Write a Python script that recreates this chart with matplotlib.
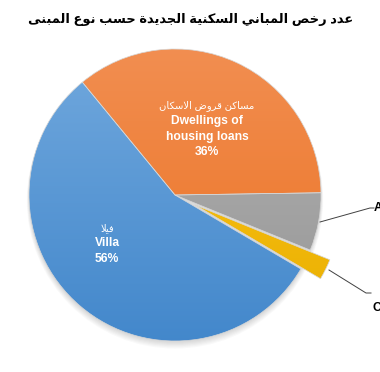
import matplotlib
matplotlib.use("Agg")
import matplotlib.pyplot as plt
import numpy as np
from matplotlib.colors import LinearSegmentedColormap
from matplotlib.patches import Circle

# بيانات الرسم
labels_ar = ["مساكن قروض الاسكان", "شقق", "أخرى", "فيلا"]
labels_en = ["Dwellings of\nhousing loans", "Apartments", "Others", "Villa"]
values = [35.7, 6.4, 2.3, 55.6]
pct_text = ["36%", "6%", "2%", "56%"]
title = "عدد رخص المباني السكنية الجديدة حسب نوع المبنى"

top_colors = ["#F28F52", "#B3B3B3", "#FFC61A", "#72A9DE"]
bottom_colors = ["#EA7020", "#959595", "#E8AE00", "#4287CB"]

# حروف العرض: (أول رمز، عدد الأشكال)
BASE = {
    "ا": (0xFE8D, 2), "أ": (0xFE83, 2), "ب": (0xFE8F, 4), "ة": (0xFE93, 2),
    "ت": (0xFE95, 4), "ج": (0xFE9D, 4), "ح": (0xFEA1, 4), "خ": (0xFEA5, 4),
    "د": (0xFEA9, 2), "ر": (0xFEAD, 2), "س": (0xFEB1, 4), "ش": (0xFEB5, 4),
    "ص": (0xFEB9, 4), "ض": (0xFEBD, 4), "ع": (0xFEC9, 4), "ف": (0xFED1, 4),
    "ق": (0xFED5, 4), "ك": (0xFED9, 4), "ل": (0xFEDD, 4), "م": (0xFEE1, 4),
    "ن": (0xFEE5, 4), "ه": (0xFEE9, 4), "و": (0xFEED, 2), "ى": (0xFEEF, 2),
    "ي": (0xFEF1, 4),
}
LIG = {"لا": 0xFEFB, "لأ": 0xFEF7}


def shape(text):
    tokens = []
    i = 0
    while i < len(text):
        c = text[i]
        if c == "ل" and i + 1 < len(text) and text[i + 1] in "اأ":
            tokens.append(c + text[i + 1])
            i += 2
        else:
            tokens.append(c)
            i += 1

    def joins_next(t):
        return t in BASE and BASE[t][1] == 4

    def joins_prev(t):
        return t in BASE or t in LIG

    out = []
    for k, t in enumerate(tokens):
        prev = tokens[k - 1] if k > 0 else None
        nxt = tokens[k + 1] if k + 1 < len(tokens) else None
        a = prev is not None and joins_next(prev) and joins_prev(t)
        b = nxt is not None and joins_next(t) and joins_prev(nxt)
        if t in LIG:
            out.append(chr(LIG[t] + (1 if a else 0)))
        elif t in BASE:
            base, n = BASE[t]
            if a and b:
                out.append(chr(base + 3))
            elif b:
                out.append(chr(base + 2))
            elif a:
                out.append(chr(base + 1))
            else:
                out.append(chr(base))
        else:
            out.append(t)
    return "".join(reversed(out))


FONT = ["Liberation Sans", "DejaVu Sans"]
W, H = 380, 372
CX, CY, R = 175, 195, 146
LINE = 15.3


def px(x, y):
    return (x - CX) / R, (CY - y) / R


def label(i, x, y_first, color, ha="center"):
    # سطر عربي ثم أسطر إنجليزية ثم النسبة
    lines = [(shape(labels_ar[i]), "normal", 7.2)]
    lines += [(s, "bold", 8.7) for s in labels_en[i].split("\n")]
    lines.append((pct_text[i], "bold", 8.7))
    for k, (s, wt, fs) in enumerate(lines):
        tx, ty = px(x, y_first + k * LINE)
        ax.text(tx, ty, s, ha=ha, va="center", color=color, fontsize=fs,
                fontweight=wt, family=FONT, zorder=3)


fig = plt.figure(figsize=(3.8, 3.72), dpi=100)
ax = fig.add_axes([0, 0, 1, 1])

# ظل خفيف
for k in range(6):
    ax.add_patch(Circle((0, -0.012 - 0.005 * k), 1.0 + 0.003 * k, color="#000000",
                        alpha=0.025, lw=0, zorder=0))

wedges, _ = ax.pie(values, startangle=129.4, counterclock=False,
                   explode=[0, 0, 0.15, 0],
                   wedgeprops=dict(facecolor="none", edgecolor="#d6d6d6", lw=0.5))

grad = np.linspace(0, 1, 256).reshape(-1, 1)
for w, c1, c2 in zip(wedges, top_colors, bottom_colors):
    cmap = LinearSegmentedColormap.from_list("g", [c1, c2])
    im = ax.imshow(grad, cmap=cmap, origin="upper", extent=(-1.3, 1.4, -1.05, 1.05),
                   aspect="auto", zorder=1, interpolation="bilinear")
    im.set_clip_path(w)
    w.set_zorder(2)

# تسميات داخلية
label(0, 207, 106, "white")
label(3, 107, 228, "white")

# خطوط التسميات الخارجية
xs, ys = zip(px(320, 222), px(370, 208), px(374, 208))
ax.plot(xs, ys, color="#404040", lw=0.7, zorder=3)
xs, ys = zip(px(329, 270), px(366, 293), px(371, 293))
ax.plot(xs, ys, color="#404040", lw=0.7, zorder=3)

# تسميات خارجية (مقطوعة عند حافة الصورة كما في الأصل)
label(1, 376 + 31, 193, "black")
label(2, 373 + 19, 293, "black")

ax.set_xlim(-CX / R, (W - CX) / R)
ax.set_ylim(-(H - CY) / R, CY / R)
ax.set_aspect("auto")
ax.axis("off")

fig.text(191 / W, 1 - 20 / H, shape(title), ha="center", va="center",
         fontsize=9.4, fontweight="bold", family=FONT)

fig.savefig("out.png", dpi=100)
